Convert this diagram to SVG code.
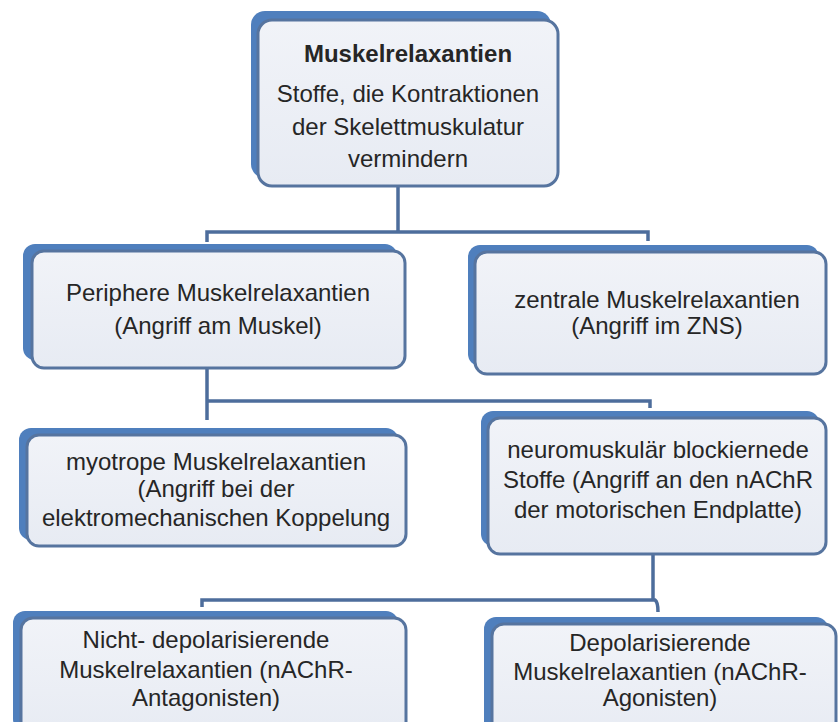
<svg xmlns="http://www.w3.org/2000/svg" width="838" height="722" viewBox="0 0 838 722">
<style>
.back{fill:#4f7fbd;}
.front{fill:url(#g);stroke:#56749f;stroke-width:3;}
.t{font-family:"Liberation Sans",Arial,sans-serif;font-size:24px;fill:#262626;text-anchor:middle;}
.b{font-weight:bold;}
.c{fill:none;stroke:#4d6d9c;stroke-width:3.5;}
</style>
<defs>
<linearGradient id="g" x1="0" y1="0" x2="0" y2="1">
<stop offset="0" stop-color="#f1f3f8"/>
<stop offset="1" stop-color="#e7ebf3"/>
</linearGradient>
</defs>
<rect width="838" height="722" fill="#ffffff"/>
<g id="connectors">
<path class="c" d="M398,186 V232 M207,242 V232 H648 V241"/>
<path class="c" d="M207,368 V420 M207,401 H650 V408"/>
<path class="c" d="M653,554 V600 M202,607 V600 H655 Q658,602 658,612"/>
</g>
<g id="n-top">
<rect class="back" x="251" y="11" width="300" height="167" rx="14"/>
<rect class="front" x="258" y="20" width="300" height="166" rx="14"/>
<text class="t b" x="408" y="62">Muskelrelaxantien</text>
<text class="t" x="408" y="102">Stoffe, die Kontraktionen</text>
<text class="t" x="408" y="135">der Skelettmuskulatur</text>
<text class="t" x="408" y="167">vermindern</text>
</g>
<g id="n-periphere">
<rect class="back" x="23" y="244" width="374" height="116" rx="12"/>
<rect class="front" x="32" y="251" width="373" height="117" rx="12"/>
<text class="t" x="218" y="301">Periphere Muskelrelaxantien</text>
<text class="t" x="218" y="334">(Angriff am Muskel)</text>
</g>
<g id="n-zentrale">
<rect class="back" x="468" y="245" width="351" height="121" rx="12"/>
<rect class="front" x="475" y="252" width="351" height="122" rx="12"/>
<text class="t" x="657" y="308">zentrale Muskelrelaxantien</text>
<text class="t" x="657" y="334">(Angriff im ZNS)</text>
</g>
<g id="n-myotrope">
<rect class="back" x="19" y="428" width="379" height="112" rx="12"/>
<rect class="front" x="27" y="435" width="379" height="111" rx="12"/>
<text class="t" x="216" y="470">myotrope Muskelrelaxantien</text>
<text class="t" x="216" y="497">(Angriff bei der</text>
<text class="t" x="216" y="526">elektromechanischen Koppelung</text>
</g>
<g id="n-neuro">
<rect class="back" x="481" y="411" width="338" height="135" rx="12"/>
<rect class="front" x="488" y="418" width="338" height="136" rx="12"/>
<text class="t" x="658" y="458">neuromuskulär blockiernede</text>
<text class="t" x="658" y="488">Stoffe (Angriff an den nAChR</text>
<text class="t" x="658" y="518">der motorischen Endplatte)</text>
</g>
<g id="n-nicht">
<rect class="back" x="13" y="611" width="385" height="120" rx="12"/>
<rect class="front" x="21" y="618" width="385" height="120" rx="12"/>
<text class="t" x="206" y="648">Nicht- depolarisierende</text>
<text class="t" x="206" y="678">Muskelrelaxantien (nAChR-</text>
<text class="t" x="206" y="706">Antagonisten)</text>
</g>
<g id="n-depol">
<rect class="back" x="484" y="617" width="344" height="120" rx="12"/>
<rect class="front" x="492" y="624" width="344" height="120" rx="12"/>
<text class="t" x="660" y="651">Depolarisierende</text>
<text class="t" x="660" y="680">Muskelrelaxantien (nAChR-</text>
<text class="t" x="660" y="706">Agonisten)</text>
</g>
</svg>
